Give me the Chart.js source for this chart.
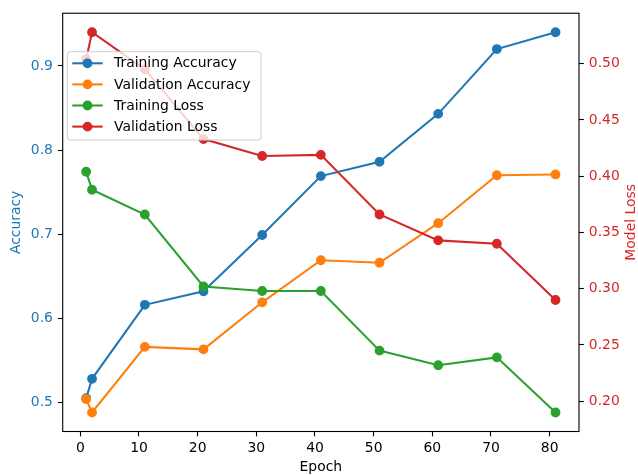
<!DOCTYPE html>
<html><head><meta charset="utf-8">
<script src="https://cdn.jsdelivr.net/npm/chart.js@4/dist/chart.umd.min.js"></script>
<style>html,body{margin:0;padding:0;background:#fff;}</style>
</head><body>
<canvas id="c" width="638" height="475"></canvas>
<script>
// Training history, one entry per logged epoch
const epochs = [1, 2, 11, 21, 31, 41, 51, 61, 71, 81];
const trainAcc = [0.505, 0.528, 0.616, 0.632, 0.699, 0.769, 0.786, 0.843, 0.920, 0.940];
const valAcc = [0.504, 0.488, 0.566, 0.563, 0.619, 0.669, 0.666, 0.713, 0.770, 0.771];
const trainLoss = [0.404, 0.388, 0.366, 0.302, 0.298, 0.298, 0.245, 0.232, 0.239, 0.190];
const valLoss = [0.504, 0.528, 0.495, 0.433, 0.418, 0.419, 0.366, 0.343, 0.340, 0.290];

// Tick positions
const epochTicks = [0, 10, 20, 30, 40, 50, 60, 70, 80];
const accTicks = [0.5, 0.6, 0.7, 0.8, 0.9];
const lossTicks = [0.20, 0.25, 0.30, 0.35, 0.40, 0.45, 0.50];

const BLUE = '#1f77b4', ORANGE = '#ff7f0e', GREEN = '#2ca02c', RED = '#d62728';
const FAMILY = "'DejaVu Sans', sans-serif";
const FS = 13.9;

// 5% margins around the data, as in a default matplotlib axes
function padRange(vals) {
  const lo = Math.min(...vals), hi = Math.max(...vals), m = (hi - lo) * 0.05;
  return [lo - m, hi + m];
}
const [xMin, xMax] = padRange(epochs);
const [accMin, accMax] = padRange(trainAcc.concat(valAcc));
const [lossMin, lossMax] = padRange(trainLoss.concat(valLoss));

function series(label, ys, color, axis, order) {
  return {
    label, yAxisID: axis, order,
    data: epochs.map((x, i) => ({ x, y: ys[i] })),
    borderColor: color, backgroundColor: color,
    pointBackgroundColor: color, pointBorderColor: color,
    pointRadius: 4.2, pointHoverRadius: 4.2, pointBorderWidth: 1.4,
    borderWidth: 2.08, tension: 0, clip: false
  };
}

function tickGrid() {
  return { display: true, drawOnChartArea: false, drawTicks: true, tickLength: 4.9, tickColor: '#000', tickWidth: 1.1 };
}

// Frame, epoch tick labels, axis titles and an in-plot legend
const decorations = {
  id: 'decorations',
  afterDraw(chart) {
    const ctx = chart.ctx, a = chart.chartArea;
    ctx.save();
    ctx.strokeStyle = '#000';
    ctx.lineWidth = 1.1;
    ctx.strokeRect(a.left, a.top, a.right - a.left, a.bottom - a.top);

    ctx.font = FS + 'px ' + FAMILY;
    ctx.textAlign = 'center';
    ctx.textBaseline = 'middle';
    ctx.fillStyle = '#000';
    const xs = chart.scales.x;
    epochTicks.forEach(v => ctx.fillText(String(v), xs.getPixelForValue(v), 448));

    const cy = (a.top + a.bottom) / 2;
    ctx.fillText('Epoch', (a.left + a.right) / 2, 467);

    ctx.save();
    ctx.translate(16.7, cy);
    ctx.rotate(-Math.PI / 2);
    ctx.fillStyle = BLUE;
    ctx.fillText('Accuracy', 0, 0);
    ctx.restore();

    ctx.save();
    ctx.translate(631.5, cy);
    ctx.rotate(-Math.PI / 2);
    ctx.fillStyle = RED;
    ctx.fillText('Model Loss', 0, 0);
    ctx.restore();

    // legend box
    const bx = 67.3, by = 51.7, bw = 193.7, bh = 88.3, r = 3;
    ctx.beginPath();
    ctx.moveTo(bx + r, by);
    ctx.arcTo(bx + bw, by, bx + bw, by + bh, r);
    ctx.arcTo(bx + bw, by + bh, bx, by + bh, r);
    ctx.arcTo(bx, by + bh, bx, by, r);
    ctx.arcTo(bx, by, bx + bw, by, r);
    ctx.closePath();
    ctx.fillStyle = 'rgba(255,255,255,0.8)';
    ctx.fill();
    ctx.strokeStyle = '#cccccc';
    ctx.lineWidth = 1;
    ctx.stroke();

    ctx.textAlign = 'left';
    chart.data.datasets.forEach((ds, i) => {
      const y = 63.3 + i * 21.1;
      ctx.strokeStyle = ds.borderColor;
      ctx.lineWidth = 2.08;
      ctx.beginPath();
      ctx.moveTo(72.3, y);
      ctx.lineTo(102.7, y);
      ctx.stroke();
      ctx.beginPath();
      ctx.arc(87.5, y, 4.2, 0, Math.PI * 2);
      ctx.fillStyle = ds.borderColor;
      ctx.fill();
      ctx.lineWidth = 1.4;
      ctx.stroke();
      ctx.fillStyle = '#000';
      ctx.fillText(ds.label, 114, y + 0.5);
    });
    ctx.restore();
  }
};

new Chart(document.getElementById('c'), {
  type: 'line',
  data: {
    datasets: [
      series('Training Accuracy', trainAcc, BLUE, 'yAcc', 3),
      series('Validation Accuracy', valAcc, ORANGE, 'yAcc', 2),
      series('Training Loss', trainLoss, GREEN, 'yLoss', 1),
      series('Validation Loss', valLoss, RED, 'yLoss', 0)
    ]
  },
  options: {
    responsive: false,
    animation: false,
    devicePixelRatio: 1,
    events: [],
    layout: { padding: { top: 10.7, left: 0, right: 0, bottom: 0 }, autoPadding: false },
    plugins: { legend: { display: false }, tooltip: { enabled: false } },
    scales: {
      x: {
        type: 'linear', position: 'bottom', min: xMin, max: xMax,
        afterBuildTicks: s => { s.ticks = epochTicks.map(v => ({ value: v })); },
        ticks: { display: false, autoSkip: false },
        grid: tickGrid(),
        border: { display: false },
        afterFit: s => { s.height = 43.5; }
      },
      yAcc: {
        type: 'linear', position: 'left', min: accMin, max: accMax,
        afterBuildTicks: s => { s.ticks = accTicks.map(v => ({ value: v })); },
        ticks: { color: BLUE, font: { family: FAMILY, size: FS }, padding: 4.9, autoSkip: false,
                 callback: v => Number(v).toFixed(1) },
        grid: tickGrid(),
        border: { display: false },
        afterFit: s => { s.width = 62.7; }
      },
      yLoss: {
        type: 'linear', position: 'right', min: lossMin, max: lossMax,
        afterBuildTicks: s => { s.ticks = lossTicks.map(v => ({ value: v })); },
        ticks: { color: RED, font: { family: FAMILY, size: FS }, padding: 4.9, autoSkip: false,
                 callback: v => Number(v).toFixed(2) },
        grid: tickGrid(),
        border: { display: false },
        afterFit: s => { s.width = 59; }
      }
    }
  },
  plugins: [decorations]
});
</script>
</body></html>
